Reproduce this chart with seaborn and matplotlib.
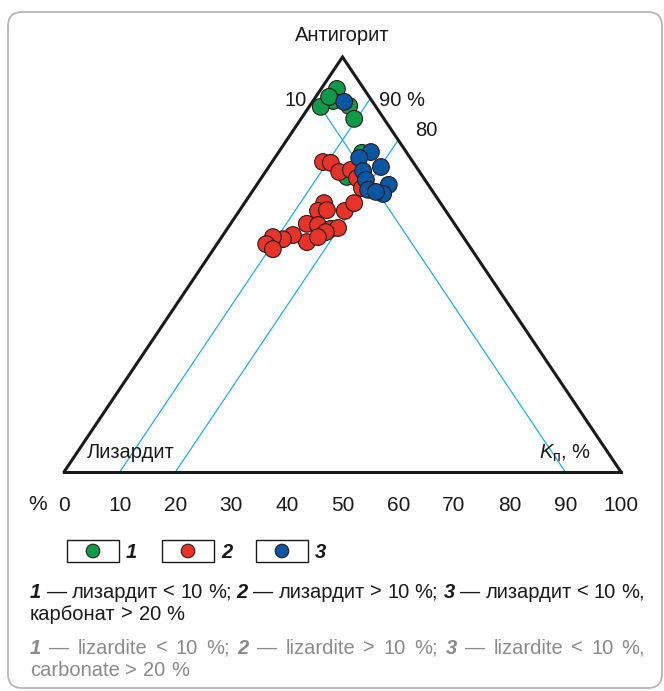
import numpy as np
import pandas as pd
import matplotlib
matplotlib.use("Agg")
import matplotlib.pyplot as plt
from matplotlib.patches import FancyBboxPatch, Rectangle
import seaborn as sns

# положение по шкале основания (%) и доля антигорита (%) для каждой пробы
green_pos = [49.0, 48.3, 46.1, 47.6, 51.2, 52.1, 53.5, 50.8]
green_ant = [92.3, 89.4, 88.0, 90.4, 88.2, 85.1, 76.9, 71.1]

red_pos = [46.5, 47.9, 49.4, 51.5, 52.6, 53.5, 46.7, 45.6, 47.2, 50.4, 52.1, 43.6,
           45.6, 47.9, 49.2, 47.0, 43.6, 45.6, 41.1, 39.3, 37.5, 36.3, 37.5]
red_ant = [74.7, 74.5, 72.3, 72.8, 70.8, 68.4, 64.8, 62.9, 63.1, 62.9, 64.8, 59.8,
           59.5, 58.6, 58.8, 57.8, 55.4, 56.6, 57.1, 56.1, 56.6, 54.9, 53.7]

blue_pos = [50.3, 55.1, 53.0, 56.9, 53.7, 54.2, 58.3, 57.3, 54.6, 56.0]
blue_ant = [89.2, 77.1, 75.7, 73.5, 72.5, 70.4, 69.2, 67.0, 68.0, 67.5]

group_names = ["1", "2", "3"]
group_colors = ["#0f9a4a", "#e8332b", "#0b56a0"]

x_ticks = list(range(0, 101, 10))
kp_levels = [10, 20]      # линии Kп = const
liz_levels = [10]         # линии лизардит = const

line_blue = "#2aa7dc"
gray_txt = "#8a8a8a"
dark = "#1a1a1a"

sns.set_style("white")
plt.rcParams["font.family"] = ["Liberation Sans", "DejaVu Sans"]
plt.rcParams["mathtext.fontset"] = "custom"
plt.rcParams["mathtext.it"] = "Liberation Sans:italic"
plt.rcParams["mathtext.rm"] = "Liberation Sans"

W, H = 664, 691
fig = plt.figure(figsize=(W / 100, H / 100), dpi=100)
fig.patch.set_facecolor("white")

# фон, рамка и легенда в пиксельных координатах
bg = fig.add_axes([0, 0, 1, 1])
bg.set_xlim(0, W)
bg.set_ylim(H, 0)
bg.axis("off")
bg.add_patch(FancyBboxPatch((8, 12), 654, 676, boxstyle="round,pad=0,rounding_size=14",
                            facecolor="white", edgecolor="#b5b5b5", linewidth=1.3))

# треугольная диаграмма
ax = fig.add_axes([64 / W, (H - 472) / H, 557 / W, 415 / H])
ax.set_xlim(0, 100)
ax.set_ylim(0, 100)
ax.patch.set_alpha(0)
for s in ["top", "right", "left"]:
    ax.spines[s].set_visible(False)
ax.spines["bottom"].set_linewidth(2.2)
ax.spines["bottom"].set_color(dark)
ax.set_yticks([])
ax.set_xticks(x_ticks)
ax.set_xticklabels([str(t) for t in x_ticks], fontsize=15, color=dark)
ax.tick_params(axis="x", direction="out", length=11, width=1, color=dark, pad=6)

# стороны треугольника
ax.plot([0, 50, 100], [0, 100, 0], color=dark, lw=2.2, solid_joinstyle="miter", clip_on=False)

# вспомогательные линии
for kp in kp_levels:
    a_end = 100 - kp
    ax.plot([kp, kp + a_end / 2], [0, a_end], color=line_blue, lw=0.9, zorder=1)
for lz in liz_levels:
    a_end = 100 - lz
    ax.plot([a_end / 2, 100 - lz], [a_end, 0], color=line_blue, lw=0.9, zorder=1)

df = pd.concat([
    pd.DataFrame({"pos": green_pos, "ant": green_ant, "group": "1"}),
    pd.DataFrame({"pos": red_pos, "ant": red_ant, "group": "2"}),
    pd.DataFrame({"pos": blue_pos, "ant": blue_ant, "group": "3"}),
], ignore_index=True)

sns.scatterplot(data=df, x="pos", y="ant", hue="group", hue_order=group_names,
                palette=group_colors, s=145, edgecolor="#2a1a1a", linewidth=0.8,
                legend=False, ax=ax, zorder=3, clip_on=False)
ax.set_xlabel("")
ax.set_ylabel("")

# подписи
fs = 14.5
ax.text(50, 105.3, "Антигорит", ha="center", va="center", fontsize=fs, color=dark, clip_on=False)
ax.text(41.6, 89.6, "10", ha="center", va="center", fontsize=fs, color=dark)
ax.text(60.7, 89.6, "90 %", ha="center", va="center", fontsize=fs, color=dark)
ax.text(65.0, 82.4, "80", ha="center", va="center", fontsize=fs, color=dark)
ax.text(12.0, 4.6, "Лизардит", ha="center", va="center", fontsize=fs, color=dark)
ax.text(90.0, 4.6, r"$K_{\mathrm{п}}$, %", ha="center", va="center", fontsize=fs, color=dark)
ax.text(-3.0, -7.9, "%", ha="right", va="center", fontsize=15, color=dark, clip_on=False)

# легенда со значками
box_x = [67, 162, 256]
for i, (bx, col, name) in enumerate(zip(box_x, group_colors, group_names)):
    bg.add_patch(Rectangle((bx, 540), 52, 22, facecolor="white", edgecolor=dark, lw=1.0))
    bg.text(bx + 59, 552, name, ha="left", va="center", fontsize=fs,
            fontweight="bold", fontstyle="italic", color=dark)
legend_df = pd.DataFrame({"x": [b + 26 for b in box_x], "y": [551] * 3, "group": group_names})
sns.scatterplot(data=legend_df, x="x", y="y", hue="group", hue_order=group_names,
                palette=group_colors, s=95, edgecolor="#2a1a1a", linewidth=0.8,
                legend=False, ax=bg, zorder=3)
bg.set_xlim(0, W)
bg.set_ylim(H, 0)
bg.axis("off")

# поясняющие строки с полужирными номерами
fig.canvas.draw()
renderer = fig.canvas.get_renderer()


def text_width(txt, bold):
    t = bg.text(0, 0, txt, fontsize=fs, fontweight="bold" if bold else "normal",
                fontstyle="italic" if bold else "normal")
    w = t.get_window_extent(renderer=renderer).width
    t.remove()
    return w


def put_runs(x, y, runs, color, right=None):
    # разбиваем на слова, чтобы при необходимости выровнять строку по ширине
    words = []
    for txt, bold in runs:
        for w in txt.split(" "):
            if w:
                words.append((w, bold))
    space = text_width("a a", False) - text_width("aa", False)
    widths = [text_width(w, b) for w, b in words]
    gap = space
    if right is not None and len(words) > 1:
        gap = (right - x - sum(widths)) / (len(words) - 1)
    cur = x
    for (w, bold), wd in zip(words, widths):
        bg.text(cur, y, w, ha="left", va="center", fontsize=fs, color=color,
                fontweight="bold" if bold else "normal",
                fontstyle="italic" if bold else "normal")
        cur += wd + gap


ru_line1 = [("1", True), (" — лизардит < 10 %; ", False), ("2", True),
            (" — лизардит > 10 %; ", False), ("3", True), (" — лизардит < 10 %,", False)]
ru_line2 = [("карбонат > 20 %", False)]
en_line1 = [("1", True), (" — lizardite < 10 %; ", False), ("2", True),
            (" — lizardite > 10 %; ", False), ("3", True), (" — lizardite < 10 %,", False)]
en_line2 = [("carbonate > 20 %", False)]

put_runs(30, 592, ru_line1, dark, right=645)
put_runs(30, 614, ru_line2, dark)
put_runs(30, 648, en_line1, gray_txt, right=645)
put_runs(30, 671, en_line2, gray_txt)

fig.savefig("out.png", dpi=100)
